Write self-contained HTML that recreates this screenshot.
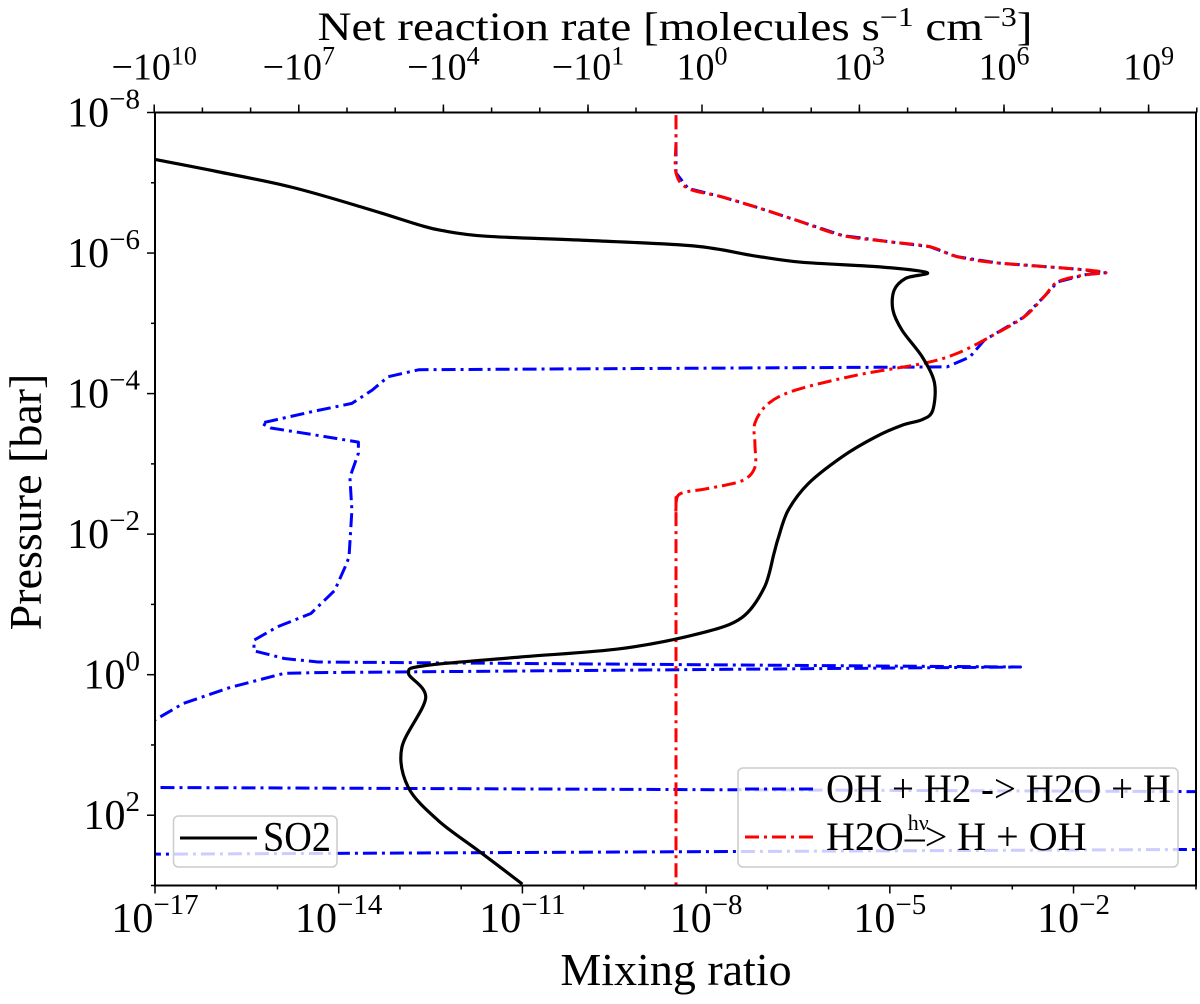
<!DOCTYPE html>
<html><head><meta charset="utf-8"><style>
html,body{margin:0;padding:0;background:#fff;}
svg text{font-family:"Liberation Serif",serif;fill:#000;}
</style></head><body>
<svg id="chart" width="1200" height="999" viewBox="0 0 1200 999" xmlns="http://www.w3.org/2000/svg">
<defs><clipPath id="plotclip"><rect x="155" y="112.5" width="1041" height="773"/></clipPath></defs>
<rect width="1200" height="999" fill="#fff"/>
<g id="series" clip-path="url(#plotclip)"></g>
<g id="axes"></g>
<text x="675" y="40" font-size="40" text-anchor="middle" textLength="715" lengthAdjust="spacingAndGlyphs">Net reaction rate [molecules s<tspan dy="-14" font-size="27">−1</tspan><tspan dy="14"> cm</tspan><tspan dy="-14" font-size="27">−3</tspan><tspan dy="14">]</tspan></text>
<text x="676" y="985" font-size="46" text-anchor="middle">Mixing ratio</text>
<text transform="translate(41,502) rotate(-90)" font-size="46" text-anchor="middle">Pressure [bar]</text>
<g id="legends"></g>
</svg>
<script>
// ---- data ----
const so2LogMix = [-16.99,-15.99,-14.78,-13.57,-12.69,-12.31,-11.60,-9.95,-8.19,-7.21,-6.45,-5.12,-4.39,-4.74,-4.93,-4.95,-4.80,-4.47,-4.27,-4.30,-4.47,-4.80,-5.24,-5.78,-6.33,-6.66,-6.82,-6.89,-7.05,-7.42,-8.09,-9.40,-11.05,-12.58,-12.86,-12.58,-12.97,-12.86,-12.37,-11.71,-11.00];
const so2LogP = [-7.33,-7.16,-6.94,-6.64,-6.40,-6.32,-6.24,-6.18,-6.10,-5.96,-5.87,-5.80,-5.72,-5.64,-5.47,-5.19,-4.90,-4.52,-4.15,-3.76,-3.63,-3.55,-3.38,-3.10,-2.72,-2.34,-1.95,-1.73,-1.24,-0.81,-0.59,-0.37,-0.25,-0.13,-0.02,0.33,1.04,1.61,2.08,2.51,2.98];
const photoRate = [0,0,0,0.46,3.9,8.8,47.6,443,4.3e3,2.9e4,1.05e5,7.1e5,3.5e7,1.3e8,4.8e7,1.3e7,6.8e6,2.6e6,5.2e5,1.05e5,2.1e4,850,47.6,13,8.8,8.8,8.8,6.9,1.9,0.19,0,0,0,0];
const photoLogP = [-7.96,-7.6,-7.14,-6.92,-6.80,-6.66,-6.47,-6.25,-6.16,-6.09,-5.95,-5.86,-5.77,-5.72,-5.69,-5.59,-5.38,-5.09,-4.81,-4.57,-4.43,-4.26,-4.05,-3.86,-3.58,-3.29,-2.95,-2.76,-2.65,-2.58,-2.44,-2.3,-2.1,3.0];
const ohRate = [0,0,0.46,3.9,8.8,47.6,443,4.3e3,2.9e4,1.05e5,7.1e5,3.5e7,1.3e8,4.8e7,1.3e7,6.8e6,2.6e6,5.2e5,3.9e5,1.95e5,6.6e4,-3.2e4,-1.4e5,-3.0e5,-7.9e5,-5.6e6,-6.0e7,-3.8e7,-5.6e6,-5.8e5,-5.8e5,-8.7e5,-7.9e5,-9.1e5,-1.1e6,-1.8e6,-5.6e6,-2.8e7,-8.5e7,-8.5e7,-2.0e7,-4.0e6,2.2e6,-4.0e6,-2.0e7,-2.6e8,-2.5e9,-1e10,-1e11,-1e12,1e12,1e12,-1e12,-1e12];
const ohLogP = [-7.96,-7.14,-6.92,-6.80,-6.66,-6.47,-6.25,-6.16,-6.09,-5.95,-5.86,-5.77,-5.72,-5.69,-5.59,-5.38,-5.09,-4.81,-4.76,-4.52,-4.38,-4.34,-4.24,-4.05,-3.86,-3.74,-3.58,-3.51,-3.42,-3.31,-3.15,-2.81,-2.34,-1.67,-1.53,-1.20,-0.87,-0.68,-0.49,-0.34,-0.23,-0.18,-0.11,-0.03,-0.02,0.18,0.41,0.65,0.94,1.60,1.67,2.48,2.56,3.0];
const xTickExp = [-17,-14,-11,-8,-5,-2];
const yTickExp = [-8,-6,-4,-2,0,2];
const topTickLabels = ["−10","−10","−10","−10","10","10","10","10"];
const topTickExps = ["10","7","4","1","0","3","6","9"];
const topTickVals = [-1e10,-1e7,-1e4,-10,1,1e3,1e6,1e9];

// ---- axes functions ----
const L=155,R=1196,T=112.5,B=885.5;
function xMix(lm){return L+(lm+17)*(R-L)/17;}
function yP(lp){return T+(lp+8)*(B-T)/11;}
function xRate(v){
  const D=48.2;
  if(v<=-10) return 588-(Math.log10(-v)-1)*D;
  if(v>=10) return 763+(Math.log10(v)-1)*D;
  const a=[[-10,588],[-1,636],[0,676],[1,702],[10,763]];
  for(let i=0;i<a.length-1;i++){if(v>=a[i][0]&&v<=a[i+1][0]){const t=(v-a[i][0])/(a[i+1][0]-a[i][0]);return a[i][1]+t*(a[i+1][1]-a[i][1]);}}
  return 676;
}
const NS="http://www.w3.org/2000/svg";
function mk(tag,attrs,parent){const e=document.createElementNS(NS,tag);for(const k in attrs)e.setAttribute(k,attrs[k]);parent.appendChild(e);return e;}
const series=document.getElementById('series'),axes=document.getElementById('axes'),leg=document.getElementById('legends');

function pathD(xs,ys){return xs.map((x,i)=>(i?'L':'M')+x.toFixed(1)+','+ys[i].toFixed(1)).join(' ');}
function smoothD(xs,ys){
  let d='M'+xs[0].toFixed(1)+','+ys[0].toFixed(1);
  const n=xs.length,k=0.16;
  for(let i=0;i<n-1;i++){
    const x0=xs[Math.max(i-1,0)],y0=ys[Math.max(i-1,0)],x3=xs[Math.min(i+2,n-1)],y3=ys[Math.min(i+2,n-1)];
    const c1x=xs[i]+(xs[i+1]-x0)*k,c1y=ys[i]+(ys[i+1]-y0)*k,c2x=xs[i+1]-(x3-xs[i])*k,c2y=ys[i+1]-(y3-ys[i])*k;
    d+=' C'+c1x.toFixed(1)+','+c1y.toFixed(1)+' '+c2x.toFixed(1)+','+c2y.toFixed(1)+' '+xs[i+1].toFixed(1)+','+ys[i+1].toFixed(1);
  }
  return d;
}
const oh=mk('path',{d:pathD(ohRate.map(xRate),ohLogP.map(yP)),fill:'none',stroke:'#0000ff','stroke-width':3,'stroke-dasharray':'14,5,3,5','stroke-linejoin':'round'},series);


const ph=mk('path',{d:smoothD(photoRate.map(xRate),photoLogP.map(yP)),fill:'none',stroke:'#ff0000','stroke-width':3,'stroke-dasharray':'14,5,3,5'},series);


const so2=mk('path',{d:smoothD(so2LogMix.map(xMix),so2LogP.map(yP)),fill:'none',stroke:'#000','stroke-width':3.2,'stroke-linejoin':'round'},series);



// frame
const fr=mk('rect',{x:L,y:T,width:R-L,height:B-T,fill:'none',stroke:'#000','stroke-width':2},axes);



// bottom ticks
for(let e=-17;e<=0;e++){const x=xMix(e);const major=xTickExp.includes(e);mk('line',{x1:x,x2:x,y1:B,y2:B+(major?8:4),stroke:'#000','stroke-width':1.5},axes);}
xTickExp.forEach(e=>{const x=xMix(e);
  const t=mk('text',{x:x,y:932,'font-size':42,'text-anchor':'middle'},axes);
  
  
  t.innerHTML='10<tspan dy="-18" font-size="29">−'+(-e)+'</tspan>';});
// left ticks
for(let e=-8;e<=3;e++){const y=yP(e);const major=yTickExp.includes(e);mk('line',{x1:L-(major?8:4),x2:L,y1:y,y2:y,stroke:'#000','stroke-width':1.5},axes);}
yTickExp.forEach(e=>{const y=yP(e);
  const t=mk('text',{x:140,y:y+14,'font-size':42,'text-anchor':'end'},axes);
  
  
  t.innerHTML='10<tspan dy="-18" font-size="29">'+(e<0?'−'+(-e):e)+'</tspan>';});
// top ticks
for(let d=1;d<=10;d++){[-1,1].forEach(s=>{const x=xRate(s*Math.pow(10,d));mk('line',{x1:x,x2:x,y1:T,y2:T-5,stroke:'#000','stroke-width':1.5},axes);});}
mk('line',{x1:636,x2:636,y1:T,y2:T-5,stroke:'#000','stroke-width':1.5},axes);
topTickVals.forEach((v,i)=>{const x=xRate(v);
  mk('line',{x1:x,x2:x,y1:T,y2:T-8,stroke:'#000','stroke-width':1.5},axes);
  const t=mk('text',{x:x,y:T-33,'font-size':38,'text-anchor':'middle'},axes);
  
  
  t.innerHTML=topTickLabels[i]+'<tspan dy="-15" font-size="26">'+topTickExps[i]+'</tspan>';});

// legends
const lg1=mk('rect',{x:173.5,y:816,width:163.5,height:51,rx:5,fill:'rgba(255,255,255,0.8)',stroke:'#ccc','stroke-width':1.5},leg);


mk('line',{x1:180,x2:257,y1:838,y2:838,stroke:'#000','stroke-width':3},leg);
const t1=mk('text',{x:263,y:851,'font-size':42,textLength:68,lengthAdjust:'spacingAndGlyphs'},leg);t1.textContent='SO2';


const lg2=mk('rect',{x:738,y:768,width:440,height:99,rx:5,fill:'rgba(255,255,255,0.8)',stroke:'#ccc','stroke-width':1.5},leg);


mk('line',{x1:745,x2:815,y1:789,y2:789,stroke:'#0000ff','stroke-width':3,'stroke-dasharray':'14,5,3,5'},leg);
mk('line',{x1:745,x2:815,y1:837,y2:837,stroke:'#ff0000','stroke-width':3,'stroke-dasharray':'14,5,3,5'},leg);
const t2=mk('text',{x:826,y:802,'font-size':40,textLength:345,lengthAdjust:'spacingAndGlyphs'},leg);t2.textContent='OH + H2 -> H2O + H';


const t3=mk('text',{x:826,y:850,'font-size':40},leg);t3.innerHTML='H2O<tspan dy="-20" font-size="22" dx="4">hν</tspan><tspan dy="20" dx="-24">–&gt;</tspan> H + OH';


</script>
</body></html>
